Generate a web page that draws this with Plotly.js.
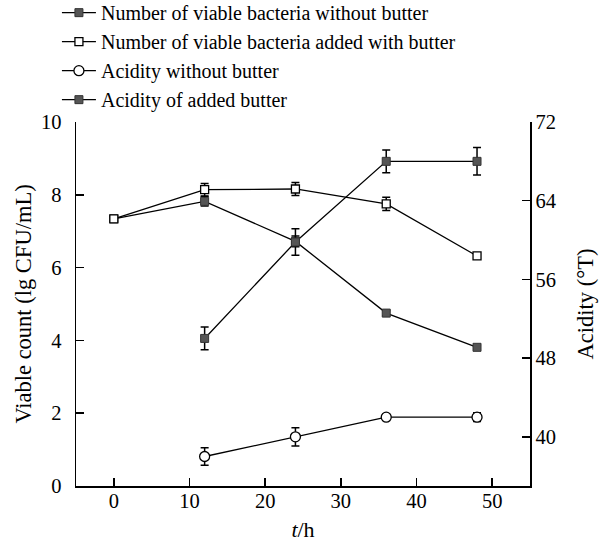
<!DOCTYPE html>
<html>
<head>
<meta charset="utf-8">
<script src="https://cdn.plot.ly/plotly-3.0.1.min.js"></script>
<style>html,body{margin:0;padding:0;background:#fff;}#chart{width:600px;height:542px;}</style>
</head>
<body>
<div id="chart"></div>
<script>
// Data
const timeAll = [0, 12, 24, 36, 48];
const timeAcid = [12, 24, 36, 48];
const viableWithout = [7.34, 7.82, 6.72, 4.75, 3.81];
const viableWithoutErr = [0.06, 0.13, 0.15, 0.07, 0.05];
const viableWith = [7.34, 8.14, 8.16, 7.75, 6.32];
const viableWithErr = [0.06, 0.17, 0.18, 0.18, 0.05];
const acidWithout = [38.0, 40.0, 42.0, 42.0];
const acidWithoutErr = [0.9, 0.93, 0.3, 0.45];
const acidAdded = [50.0, 59.8, 68.0, 68.0];
const acidAddedErr = [1.15, 1.35, 1.15, 1.4];
const legendNames = [
  'Number of viable bacteria without butter',
  'Number of viable bacteria added with butter',
  'Acidity without butter',
  'Acidity of added butter'
];

const FONT = 'Liberation Serif, Times New Roman, serif';
const errStyle = (arr) => ({type: 'data', array: arr, visible: true, color: '#000', thickness: 1.5, width: 4});

const traces = [
  {x: timeAll, y: viableWithout, name: legendNames[0], type: 'scatter', mode: 'lines+markers',
   line: {color: '#000', width: 1.3},
   marker: {symbol: 'square', size: 8, color: '#555', line: {color: '#333', width: 1}},
   error_y: errStyle(viableWithoutErr)},
  {x: timeAll, y: viableWith, name: legendNames[1], type: 'scatter', mode: 'lines+markers',
   line: {color: '#000', width: 1.3},
   marker: {symbol: 'square', size: 8, color: '#fff', line: {color: '#000', width: 1.3}},
   error_y: errStyle(viableWithErr)},
  {x: timeAcid, y: acidWithout, name: legendNames[2], type: 'scatter', mode: 'lines+markers', yaxis: 'y2',
   line: {color: '#000', width: 1.3},
   marker: {symbol: 'circle', size: 10, color: '#fff', line: {color: '#000', width: 1.3}},
   error_y: errStyle(acidWithoutErr)},
  {x: timeAcid, y: acidAdded, name: legendNames[3], type: 'scatter', mode: 'lines+markers', yaxis: 'y2',
   line: {color: '#000', width: 1.3},
   marker: {symbol: 'square', size: 8, color: '#555', line: {color: '#333', width: 1}},
   error_y: errStyle(acidAddedErr)}
];

const axisCommon = {
  showgrid: false, zeroline: false, showline: true, linecolor: '#000', linewidth: 1.5,
  ticks: 'inside', ticklen: 8, tickwidth: 1.5, tickcolor: '#000',
  tickfont: {family: FONT, size: 20.5, color: '#000'}
};

const layout = {
  width: 600, height: 542,
  margin: {l: 76, r: 70, t: 122, b: 56, autoexpand: false},
  paper_bgcolor: '#fff', plot_bgcolor: '#fff',
  font: {family: FONT, size: 20, color: '#000'},
  showlegend: true,
  legend: {
    x: -0.042, y: 1.354, xanchor: 'left', yanchor: 'top',
    font: {family: FONT, size: 20, color: '#000'}, tracegroupgap: 0,
    bgcolor: 'rgba(0,0,0,0)', itemwidth: 34
  },
  xaxis: Object.assign({}, axisCommon, {
    range: [-5, 55], tickvals: [0, 10, 20, 30, 40, 50], ticklabelstandoff: -4,
    title: {text: '<i>t</i>/h', font: {family: FONT, size: 22, color: '#000'}, standoff: 13}
  }),
  yaxis: Object.assign({}, axisCommon, {
    range: [0, 10], tickvals: [0, 2, 4, 6, 8, 10], ticklabelstandoff: 9,
    title: {text: 'Viable count (lg CFU/mL)', font: {family: FONT, size: 22.5, color: '#000'}, standoff: 3}
  }),
  yaxis2: Object.assign({}, axisCommon, {
    overlaying: 'y', side: 'right', range: [35, 72], tickvals: [40, 48, 56, 64, 72],
    title: {text: 'Acidity (°T)', font: {family: FONT, size: 22.5, color: '#000'}, standoff: 22}
  })
};

Plotly.newPlot('chart', traces, layout, {displayModeBar: false, staticPlot: true});
</script>
</body>
</html>
